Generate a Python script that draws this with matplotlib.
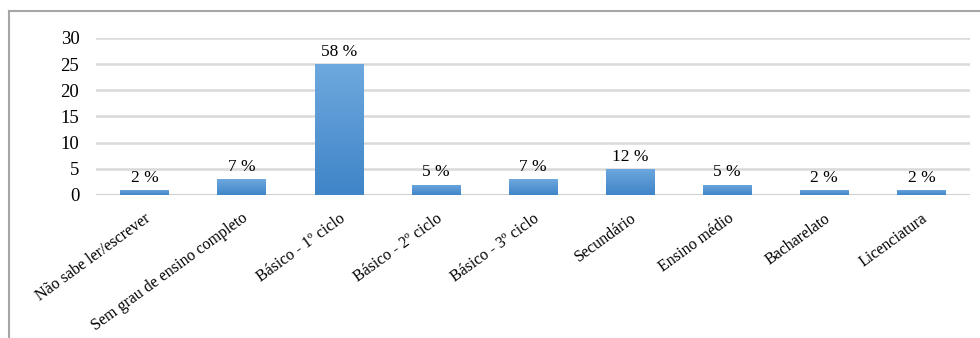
#!/usr/bin/env python3
"""Escolaridade - grafico de barras."""
import numpy as np
import matplotlib
matplotlib.use('Agg')
from matplotlib import pyplot as plt
from matplotlib.lines import Line2D

categorias = ['Não sabe ler/escrever', 'Sem grau de ensino completo',
              'Básico - 1º ciclo', 'Básico - 2º ciclo', 'Básico - 3º ciclo',
              'Secundário', 'Ensino médio', 'Bacharelato', 'Licenciatura']
valores = [1, 3, 25, 2, 3, 5, 2, 1, 1]
rotulos = ['2 %', '7 %', '58 %', '5 %', '7 %', '12 %', '5 %', '2 %', '2 %']
yticks = [0, 5, 10, 15, 20, 25, 30]

plt.rcParams['font.family'] = ['Liberation Serif', 'DejaVu Serif']

fig = plt.figure(figsize=(9.8, 3.38), dpi=100)
ax = fig.add_axes([96/980, 1 - 195/338, 874/980, 157/338])

x = np.arange(len(categorias))
bars = ax.bar(x, valores, width=0.5, color='#4a8fd6', zorder=3)

# gradiente vertical dentro de cada barra
grad = np.linspace(0, 1, 100).reshape(-1, 1)
cmap = matplotlib.colors.LinearSegmentedColormap.from_list(
    'azul', ['#3f85c8', '#6ea8de'])
for b in bars:
    x0, y0 = b.get_x(), b.get_y()
    w, h = b.get_width(), b.get_height()
    im = ax.imshow(grad, extent=[x0, x0 + w, y0, y0 + h], origin='lower',
                   cmap=cmap, aspect='auto', zorder=4)
    im.set_clip_path(b)

for xi, v, r in zip(x, valores, rotulos):
    ax.annotate(r, (xi, v), xytext=(0, 3), textcoords='offset points',
                ha='center', va='bottom', fontsize=12.5, color='#000000')

ax.set_xlim(-0.5, len(categorias) - 0.5)
ax.set_ylim(0, 30)
ax.set_yticks(yticks)
ax.set_xticks(x)
ax.set_xticklabels(categorias, rotation=36, ha='right',
                   rotation_mode='anchor', fontsize=11.5)
ax.tick_params(axis='x', length=0, pad=11)
ax.tick_params(axis='y', length=0, pad=12, labelsize=13.5)
for lbl in ax.get_yticklabels():
    lbl.set_color('#000000')
ax.grid(axis='y', color='#d9d9d9', linewidth=1.8, zorder=0)
for s in ax.spines.values():
    s.set_visible(False)
ax.axhline(0, color='#d0d0d0', linewidth=2.2, zorder=2)

# moldura cinzenta
fig.add_artist(Line2D([9/980, 9/980], [0, 1 - 11/338],
                      transform=fig.transFigure, color='#a6a6a6', lw=1.5))
fig.add_artist(Line2D([9/980, 1], [1 - 11/338, 1 - 11/338],
                      transform=fig.transFigure, color='#a6a6a6', lw=1.5))

fig.savefig('out.png', dpi=100)
